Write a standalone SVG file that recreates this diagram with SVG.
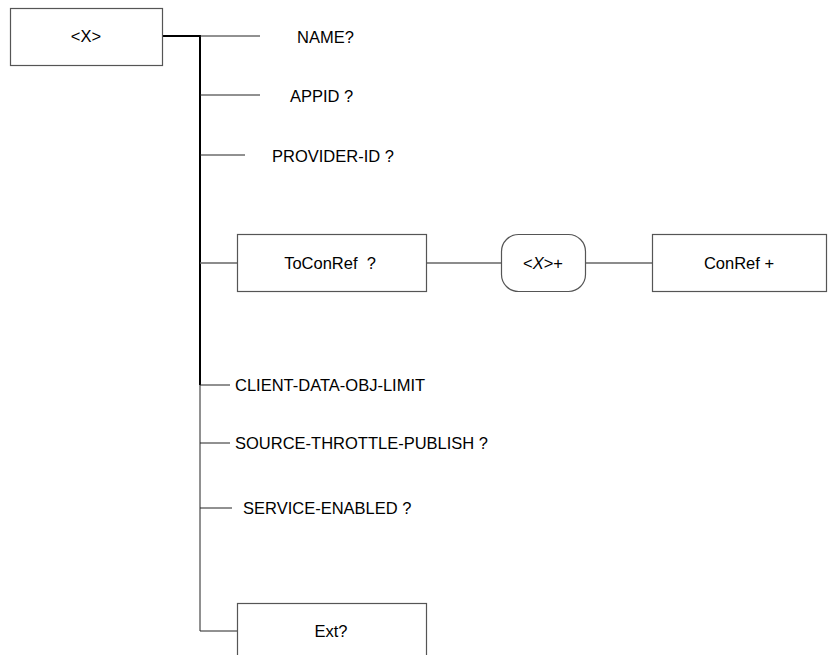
<svg xmlns="http://www.w3.org/2000/svg" width="828" height="655" viewBox="0 0 828 655">
<style>
text{font-family:"Liberation Sans",Arial,sans-serif;font-size:16.5px;fill:#000}
.box{fill:#fff;stroke:#555;stroke-width:1.2}
.ln{stroke:#222;stroke-width:1;fill:none}
.gl{stroke:#666;stroke-width:1.5;fill:none}
.thick{stroke:#000;stroke-width:2;fill:none}
.m{text-anchor:middle}
</style>
<rect width="828" height="655" fill="#fff"/>
<g id="connectors">
<path class="thick" d="M162 36H200V385"/>
<path class="ln" d="M200 385V631H237"/>
<path class="ln" d="M200 36H260"/>
<path class="ln" d="M200 95H260"/>
<path class="ln" d="M200 155H245"/>
<path class="gl" d="M200 263H237"/>
<path class="gl" d="M426 263H501"/>
<path class="gl" d="M585 263H652"/>
<path class="ln" d="M200 385H230"/>
<path class="ln" d="M200 443H230"/>
<path class="ln" d="M200 508H232"/>
</g>
<g id="root"><rect class="box" x="10.5" y="8.5" width="152" height="57"/><text class="m" x="86" y="42">&lt;X&gt;</text></g>
<g id="name"><text x="297" y="43">NAME?</text></g>
<g id="appid"><text x="290" y="102">APPID ?</text></g>
<g id="provider"><text x="272" y="162">PROVIDER-ID ?</text></g>
<g id="toconref"><rect class="box" x="237.5" y="234.5" width="189" height="57"/><text class="m" x="330" y="269" xml:space="preserve">ToConRef  ?</text></g>
<g id="xplus"><rect class="box" x="501.5" y="234.5" width="84" height="57" rx="17"/><text class="m" x="543" y="269">&lt;<tspan font-style="italic">X</tspan>&gt;+</text></g>
<g id="conref"><rect class="box" x="652.5" y="234.5" width="174" height="57"/><text class="m" x="739" y="269">ConRef +</text></g>
<g id="client"><text x="235" y="391">CLIENT-DATA-OBJ-LIMIT</text></g>
<g id="source"><text x="235" y="449">SOURCE-THROTTLE-PUBLISH ?</text></g>
<g id="service"><text x="243" y="514">SERVICE-ENABLED ?</text></g>
<g id="ext"><rect class="box" x="237.5" y="603.5" width="189" height="60"/><text class="m" x="331" y="637">Ext?</text></g>
</svg>
